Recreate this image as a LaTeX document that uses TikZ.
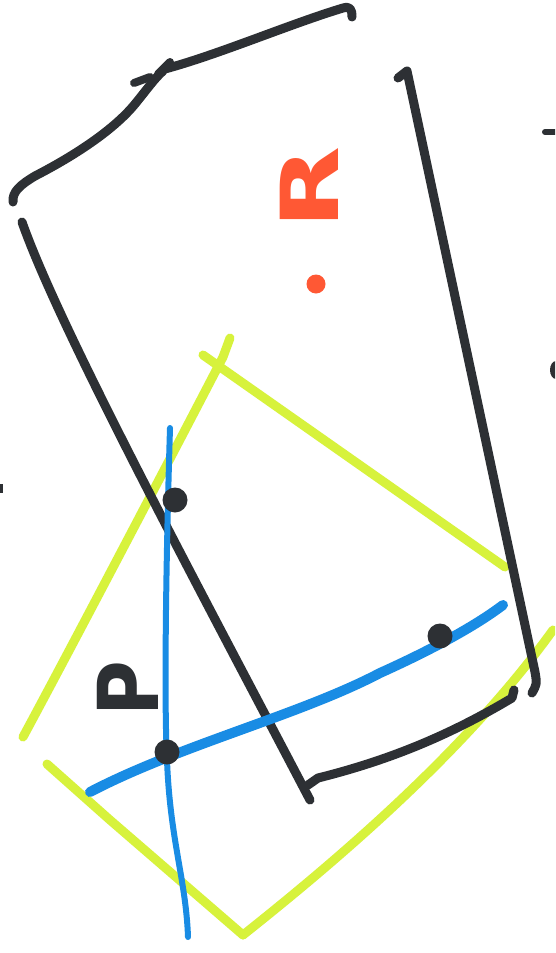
\documentclass[tikz,border=0pt]{standalone}
\usepackage{fontspec}
\setmainfont{DejaVu Sans}
\definecolor{inkblk}{RGB}{45,48,52}
\definecolor{inkyel}{RGB}{215,242,60}
\definecolor{inkblu}{RGB}{25,140,228}
\definecolor{inkred}{RGB}{255,88,52}
\tikzset{
  blk/.style={draw=inkblk, line width=9pt, line cap=round, line join=round},
  yel/.style={draw=inkyel, line width=9pt, line cap=round, line join=round},
  blu/.style={draw=inkblu, line cap=round, line join=round},
  dotn/.style={circle, fill=inkblk, inner sep=0pt, minimum size=25pt},
  letter/.style={rotate=90, inner sep=0pt, font=\bfseries\fontsize{80}{80}\selectfont}
}
\begin{document}
\begin{tikzpicture}[x=1pt,y=-1pt]
\useasboundingbox (0,0) rectangle (555,953);
\fill[white] (0,0) rectangle (555,953);
\begin{scope}
\clip (0,0) rectangle (555,953);
% yellow square
\draw[yel] (230,338) -- (223,357) .. controls (180,440) and (70,650) .. (23,737);
\draw[yel] (203,355) -- (505,567);
\draw[yel] (47,764) -- (110,820) -- (243,935);
\draw[yel] (243,935) .. controls (350,850) and (470,745) .. (553,630);
% black quadrilateral
\draw[blk] (13,202) .. controls (12,192) and (20,185) .. (35,176) .. controls (70,158) and (112,132) .. (135,104) .. controls (148,88) and (155,78) .. (163,71);
\draw[blk, line width=8pt] (134,83) -- (150,77);
\draw[blk, line width=8pt] (158,74) -- (170,62);
\draw[blk] (165,69) .. controls (220,54) and (290,24) .. (343,8) .. controls (350,6) and (352,9) .. (352,17);
\draw[blk] (22,222) .. controls (60,330) and (200,590) .. (310,800);
\draw[blk] (398,78) -- (407,71) -- (535,672) .. controls (537,684) .. (532,693);
\draw[blk] (308,785) -- (318,778) .. controls (390,760) and (450,735) .. (512,698) -- (514,690);
% blue lines
\draw[blu, line width=6pt] (170,428) .. controls (166,560) and (164,700) .. (167,760) .. controls (170,840) and (186,880) .. (188,937);
\draw[blu, line width=10pt] (90,792) .. controls (180,745) and (300,715) .. (380,673) .. controls (420,655) and (470,630) .. (503,605);
% dots
\node[dotn] (d1) at (175,500) {};
\node[dotn] (d2) at (167,752) {};
\node[dotn] (d3) at (440,636) {};
\node[circle, fill=inkred, inner sep=0pt, minimum size=19pt] (rdot) at (316,284) {};
% letters
\node[letter, text=inkred] (R) at (309,188) {\scalebox{1.35}[1]{R}};
\node[letter, text=inkblk] (P) at (128,689) {\scalebox{0.95}[1.05]{P}};
% edge marks
\fill[inkblk] (0,484) rectangle (3,493);
\draw[blk, line width=6pt] (545,132) -- (556,132);
\fill[inkblk] (556,370) ellipse (6pt and 9pt);
\end{scope}
\end{tikzpicture}
\end{document}
